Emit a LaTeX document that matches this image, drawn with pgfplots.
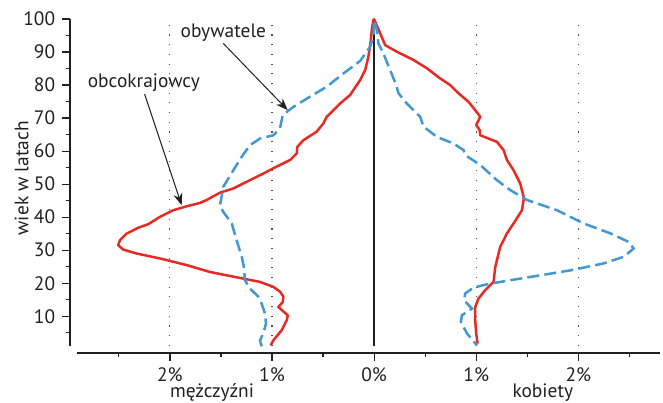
\documentclass[border=0pt]{standalone}
\usepackage{pgfplots}
\pgfplotsset{compat=1.18}
\usepackage{fontspec}
\setmainfont{PT Sans}
\usetikzlibrary{arrows.meta}
\definecolor{cred}{RGB}{232,42,36}
\definecolor{cblue}{RGB}{66,152,208}
\definecolor{ctext}{RGB}{35,31,32}
\begin{document}
\fontsize{9.7}{11}\selectfont
\begin{tikzpicture}
\begin{axis}[
  scale only axis, width=291.5pt, height=163.5pt,
  xmin=-2.91, xmax=2.8, ymin=1, ymax=100,
  clip=false,
  axis x line=bottom, axis y line=left,
  axis x line shift=3.5pt, axis y line shift=3.5pt,
  axis line style={-, ctext, line width=0.6pt},
  every outer x axis line/.append style={-},
  every outer y axis line/.append style={-},
  xtick={-2,-1,0,1,2}, xticklabels={2\%,1\%,0\%,1\%,2\%},
  minor xtick={-2.5,-1.5,-0.5,0.5,1.5,2.5},
  ytick={10,20,...,100}, minor ytick={5,15,...,95},
  tick align=outside, major tick length=4pt, minor tick length=2pt,
  every tick/.style={ctext, line width=0.6pt},
  xmajorgrids,
  major grid style={ctext!80, line width=0.55pt, dash pattern=on 0.55pt off 4.3pt},
  ticklabel style={font=\fontsize{9.7}{11}\selectfont, text=ctext},
  /pgf/number format/assume math mode=true,
  every axis y label/.style={at={(axis description cs:-0.095,0.513)}, rotate=90, anchor=center, font=\fontsize{9.7}{11}\selectfont, text=ctext},
  ylabel={wiek w latach},
]
\draw[ctext, line width=0.8pt] (axis cs:0,1) -- (axis cs:0,100);
\addplot[cred, line width=1.25pt, line join=round] coordinates {
(-1.013,1.2) (-0.987,2.7) (-0.905,5.8) (-0.856,8.8) (-0.846,10.3) (-0.938,12.8)
(-0.895,14.3) (-0.889,15.9) (-0.92,17.4) (-0.987,18.9) (-1.118,20.4) (-1.281,21.4)
(-1.608,23.4) (-1.836,25.5) (-2.098,27.5) (-2.327,29) (-2.458,30.2) (-2.507,31.5)
(-2.49,33) (-2.425,35) (-2.31,36.8) (-2.21,37.9) (-2.098,40.1) (-1.968,42.1)
(-1.836,43.3) (-1.706,44.3) (-1.64,45.2) (-1.51,47.4) (-1.379,48.7) (-1.216,51.2)
(-1.085,53.2) (-0.987,54.8) (-0.824,57.3) (-0.758,59.3) (-0.752,61.3) (-0.693,63.3)
(-0.562,65.9) (-0.497,68.4) (-0.464,70.4) (-0.333,74.4) (-0.235,77) (-0.137,81.5)
(-0.088,84.5) (-0.056,88.6) (-0.032,93.6) (-0.023,96.7) (-0.007,99.7) (0.0,99.9)
(0.059,95.7) (0.108,92.1) (0.222,90.1) (0.385,87.6) (0.516,85.1) (0.647,82)
(0.745,80) (0.827,77.5) (0.925,74.9) (0.99,72.4) (1.039,70.4) (1.0,67.9)
(1.033,66.4) (1.039,64.8) (1.203,62.8) (1.268,60.3) (1.301,57.3) (1.366,54.2)
(1.431,50.2) (1.464,46.2) (1.464,45.2) (1.448,42.1) (1.366,38.1) (1.301,35.1)
(1.235,31) (1.186,24.9) (1.170,20.4) (1.088,17.9) (1.023,15.4) (0.99,12.8)
(0.99,8.8) (1.0,4.8) (1.013,1.7)
};
\addplot[cblue, line width=1.25pt, dash pattern=on 6pt off 2.6pt] coordinates {
(-1.101,0.9) (-1.118,2.7) (-1.085,4.8) (-1.059,7.8) (-1.069,10.8) (-1.101,13.8)
(-1.134,15.9) (-1.216,18.4) (-1.265,20.9) (-1.275,24.9) (-1.297,28) (-1.346,33)
(-1.395,38.1) (-1.477,41.6) (-1.51,43.6) (-1.5,45.2) (-1.477,49.2) (-1.379,54.2)
(-1.297,58.3) (-1.216,61.8) (-1.118,63.8) (-0.987,64.8) (-0.922,66.9) (-0.895,70.9)
(-0.791,73.4) (-0.627,76.5) (-0.464,79.5) (-0.301,83.5) (-0.137,87.3) (-0.039,91.6)
(-0.007,94.6) (0.0,99.7) (0.026,96.7) (0.042,92.6) (0.091,89.6) (0.157,84.5)
(0.21,80.5) (0.239,77.5) (0.32,74.4) (0.451,70.4) (0.484,67.4) (0.615,64.3)
(0.778,62.3) (0.876,60.3) (0.892,58.8) (1.039,55.8) (1.203,51.2) (1.333,48.2)
(1.497,45.2) (1.791,42.1) (2.052,38.1) (2.314,35.1) (2.493,32.5) (2.542,30.5)
(2.444,28) (2.248,26) (1.922,23.9) (1.529,21.9) (1.137,19.9) (0.974,18.7)
(0.892,16.9) (0.882,14.8) (0.958,12.3) (0.86,10.3) (0.85,8.3) (0.909,4.8) (1.007,1.2)
};
\node[text=ctext, font=\fontsize{9.7}{11}\selectfont] at (axis cs:-2.255,80.6) {obcokrajowcy};
\draw[ctext, line width=0.5pt, -{Stealth[length=6pt,width=4.5pt]}] (axis cs:-2.248,77.3) -- (axis cs:-1.885,43.6);
\node[text=ctext, font=\fontsize{9.7}{11}\selectfont] at (axis cs:-1.477,95.7) {obywatele};
\draw[ctext, line width=0.5pt, -{Stealth[length=6pt,width=4.5pt]}] (axis cs:-1.477,92.6) -- (axis cs:-0.846,72.4);
\node[text=ctext, font=\fontsize{9.7}{11}\selectfont] at (axis description cs:0.2316,-0.1437) {mężczyźni};
\node[text=ctext, font=\fontsize{9.7}{11}\selectfont] at (axis description cs:0.799,-0.1437) {kobiety};
\coordinate (bl) at (rel axis cs:0,0);
\coordinate (tr) at (rel axis cs:1,1);
\end{axis}
\pgfresetboundingbox
\path[use as bounding box] ([xshift=-38.5pt,yshift=-28.5pt]bl) rectangle ([xshift=1.5pt,yshift=9.5pt]tr);
\end{tikzpicture}
\end{document}
